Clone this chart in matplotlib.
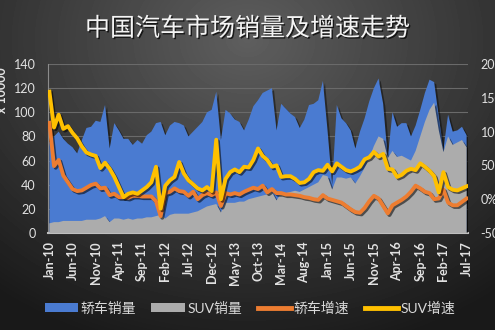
import numpy as np
import pandas as pd
import matplotlib
matplotlib.use("Agg")
import matplotlib.pyplot as plt
import matplotlib.patheffects as pe
from matplotlib.patches import Patch
from matplotlib.lines import Line2D

# =========================
# 폰트 설정
# =========================
plt.rcParams["font.family"] = ["Lato", "Noto Sans CJK SC"]
plt.rcParams["axes.unicode_minus"] = False

# =========================
# 1. 데이터 (2010-01 ~ 2017-07, 월별)
# =========================
months = pd.date_range("2010-01-01", periods=91, freq="MS").strftime("%b-%y")

# 销量 (x 10000)
sedan_sales = [
    75, 80, 84, 78, 74, 71, 66, 77, 87, 88, 93, 92, 106, 70, 91, 85, 78, 78,
    73, 77, 74, 81, 84, 91, 92, 81, 89, 92, 91, 89, 80, 84, 88, 92, 100, 102,
    117, 77, 102, 99, 94, 92, 85, 94, 105, 110, 116, 118, 120, 85, 107, 103, 99, 96, 87,
    94, 106, 107, 110, 126, 85, 40, 106, 95, 91, 85, 70, 84, 95, 109, 120, 128, 107,
    62, 100, 88, 91, 91, 80, 89, 102, 116, 127, 125, 96, 69, 98, 84, 85, 88, 81,
]
suv_sales = [
    8, 9, 9, 10, 10, 10, 10, 10, 11, 11, 11, 12, 14, 9, 12, 12, 11, 12,
    11, 12, 12, 13, 13, 14, 15, 12, 15, 16, 16, 16, 16, 17, 18, 20, 22, 23,
    24, 17, 25, 25, 25, 26, 26, 28, 29, 30, 31, 32, 34, 27, 33, 33, 34, 35, 34,
    36, 38, 40, 42, 48, 47, 36, 46, 46, 45, 46, 41, 47, 54, 62, 72, 80, 78,
    62, 68, 63, 64, 62, 60, 68, 80, 92, 102, 108, 85, 67, 80, 73, 75, 77, 71,
]

# 增速 (%)
sedan_growth = [
    113, 49, 58, 35, 25, 15, 12, 13, 17, 21, 23, 16, 17, 6, 8, 3, 3, 2,
    5, 5, 4, 4, 4, -3, -25, 9, 11, 16, 12, 11, 5, 11, 0, 6, 9, 6,
    10, -10, 9, 7, 9, 7, 11, 14, 17, 15, 20, 10, 15, 9, 9, 7, 7, 6, 5,
    3, 2, 0, -1, 6, 1, -1, -3, -5, -10, -15, -19, -20, -13, -3, 5, 1, -10,
    -21, -9, -5, -1, 4, 11, 20, 16, 11, 9, 0, 1, 14, -5, -9, -9, -4, 1,
]
suv_growth = [
    159, 106, 125, 104, 108, 98, 90, 78, 69, 66, 64, 46, 54, 45, 33, 18, 3, 8,
    10, 8, 13, 18, 25, 48, -14, 20, 28, 33, 55, 38, 28, 22, 16, 13, 18, 12,
    88, 0, 30, 40, 44, 40, 48, 47, 58, 75, 64, 58, 48, 50, 33, 34, 34, 30, 24,
    25, 30, 40, 43, 42, 51, 41, 53, 48, 43, 41, 44, 48, 59, 62, 70, 63, 67,
    45, 44, 33, 36, 42, 45, 43, 53, 48, 42, 34, 10, 40, 18, 14, 13, 16, 19,
]

BLUE = "#4a7bd1"
GREY = "#acacac"
ORANGE = "#ed7d31"
YELLOW = "#ffc000"
TXT = "#e2e2e2"

x = np.arange(len(months))

fig = plt.figure(figsize=(4.95, 3.3), dpi=100)

# =========================
# 2. 배경 (어두운 그라데이션)
# =========================
bg = fig.add_axes([0, 0, 1, 1], zorder=-10)
yy, xx = np.mgrid[0:1:330j, 0:1:495j]
d = np.sqrt(((xx - 0.5) / 0.75) ** 2 + ((yy - 0.12) / 0.9) ** 2)
shade = np.clip(0.37 - 0.25 * d, 0.1, 0.4)
bg.imshow(shade, cmap="gray", vmin=0, vmax=1, aspect="auto", extent=[0, 1, 0, 1])
bg.axis("off")

# =========================
# 3. 판매량 (면적)
# =========================
ax = fig.add_axes([48 / 495, 1 - 233 / 330, 420 / 495, 169 / 330])
ax.set_facecolor("none")

area_shadow = [pe.SimplePatchShadow(offset=(1.5, -1.5), shadow_rgbFace="black", alpha=0.45), pe.Normal()]
ax.fill_between(x, sedan_sales, color=BLUE, lw=0, zorder=2, path_effects=area_shadow)
ax.fill_between(x, suv_sales, color=GREY, lw=0, zorder=3, path_effects=area_shadow)

ax.set_xlim(-0.3, 90.3)
ax.set_ylim(0, 140)
ax.set_yticks(range(0, 141, 20))
ax.grid(axis="y", color="#6a6a6a", lw=0.8)
ax.set_axisbelow(True)
ax.set_xticks(x[::5])
ax.set_xticklabels(months[::5], rotation=90, fontsize=9, fontweight="bold", color=TXT)
ax.tick_params(axis="x", length=0, pad=6)
ax.tick_params(axis="y", length=0, pad=9, labelsize=9, labelcolor=TXT)
for s in ["top", "right"]:
    ax.spines[s].set_visible(False)
ax.spines["left"].set_color("#8c8c8c")
ax.spines["bottom"].set_color("#bfbfbf")
ax.spines["bottom"].set_linewidth(1.5)

# =========================
# 4. 증속 (선, 오른쪽 축)
# =========================
ax2 = ax.twinx()
line_shadow = [pe.SimpleLineShadow(offset=(1.2, -1.2), shadow_color="black", alpha=0.55), pe.Normal()]
ax2.plot(x, sedan_growth, color=ORANGE, lw=2.8, solid_joinstyle="round", path_effects=line_shadow)
ax2.plot(x, suv_growth, color=YELLOW, lw=2.8, solid_joinstyle="round", path_effects=line_shadow)
ax2.set_ylim(-50, 200)
ax2.set_yticks(range(-50, 201, 50))
ax2.set_yticklabels([f"{v}%" for v in range(-50, 201, 50)])
ax2.tick_params(axis="y", length=0, pad=9, labelsize=9, labelcolor=TXT)
for s in ax2.spines.values():
    s.set_visible(False)

# =========================
# 5. 제목 / 라벨 / 범례
# =========================
fig.text(0.5, 1 - 28 / 330, "中国汽车市场销量及增速走势", ha="center", va="center",
         fontsize=18, color="#f4f4f4",
         path_effects=[pe.withSimplePatchShadow(offset=(1, -1), shadow_rgbFace="black", alpha=0.7)])
fig.text(0.004, 1 - 90 / 330, "x 10000", rotation=90, ha="center", va="center",
         fontsize=9, fontweight="bold", color=TXT)

handles = [
    Patch(facecolor=BLUE),
    Patch(facecolor=GREY),
    Line2D([], [], color=ORANGE, lw=3.5),
    Line2D([], [], color=YELLOW, lw=3.5),
]
labels = ["轿车销量", "SUV销量", "轿车增速", "SUV增速"]
fig.legend(handles, labels, loc="center", bbox_to_anchor=(0.505, 1 - 308 / 330), ncol=4,
           frameon=False, fontsize=10, handlelength=2.4, handleheight=0.6,
           handletextpad=0.2, columnspacing=1.1, labelcolor="#d9d9d9")

fig.savefig("out.png", dpi=100)
